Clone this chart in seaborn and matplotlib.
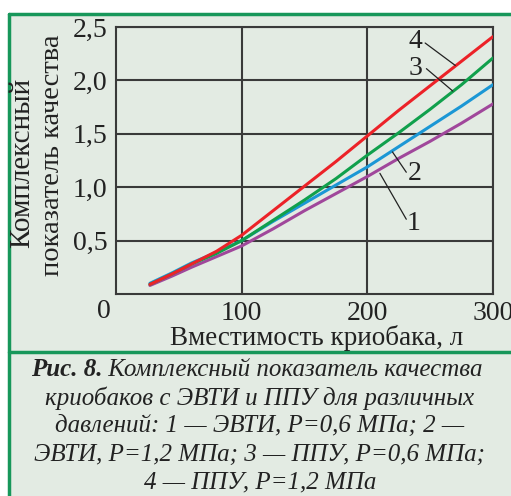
import numpy as np
import pandas as pd
import matplotlib.pyplot as plt
import seaborn as sns
from matplotlib.lines import Line2D
from matplotlib.patches import Rectangle

# данные
volume = [27, 45, 60, 80, 100, 125, 150, 175, 200, 225, 250, 275, 300]
q1 = [0.08, 0.17, 0.25, 0.35, 0.45, 0.61, 0.78, 0.94, 1.10, 1.27, 1.43, 1.60, 1.78]
q2 = [0.10, 0.20, 0.29, 0.39, 0.50, 0.68, 0.85, 1.02, 1.19, 1.38, 1.57, 1.76, 1.96]
q3 = [0.09, 0.19, 0.28, 0.38, 0.50, 0.69, 0.88, 1.08, 1.30, 1.51, 1.73, 1.96, 2.21]
q4 = [0.09, 0.19, 0.28, 0.40, 0.55, 0.78, 1.01, 1.24, 1.48, 1.72, 1.95, 2.18, 2.41]

curve_names = ["1", "2", "3", "4"]
x_ticks = [100, 200, 300]
x_tick_labels = ["100", "200", "300"]
y_ticks = [0.5, 1.0, 1.5, 2.0, 2.5]
y_tick_labels = ["0,5", "1,0", "1,5", "2,0", "2,5"]

caption_head = "Рис. 8."
caption_lines = [
    "Комплексный показатель качества",
    "криобаков с ЭВТИ и ППУ для различных",
    "давлений: 1 — ЭВТИ, P=0,6 МПа; 2 —",
    "ЭВТИ, P=1,2 МПа; 3 — ППУ, P=0,6 МПа;",
    "4 — ППУ, P=1,2 МПа",
]

df = pd.DataFrame({"volume": volume, "1": q1, "2": q2, "3": q3, "4": q4})
df = df.melt(id_vars="volume", var_name="curve", value_name="value")

BG = "#e3ebe3"
GREEN = "#17975a"
GRID = "#3a3a3a"
TXT = "#222222"
palette = {"1": "#a0479b", "2": "#1b97d5", "3": "#10a04c", "4": "#ec2228"}

sns.set_theme(style="white")
plt.rcParams["font.family"] = ["Liberation Serif", "DejaVu Serif"]

W, H = 511, 496
fig = plt.figure(figsize=(W / 100, H / 100), dpi=100)
fig.patch.set_facecolor("white")

# рамка
fig.add_artist(Rectangle((9 / W, 0), 1, 1 - 14 / H, transform=fig.transFigure,
                         facecolor=BG, edgecolor="none", zorder=-10))
fig.add_artist(Line2D([9 / W, 1], [1 - 14 / H] * 2, color=GREEN, lw=2.5, transform=fig.transFigure))
fig.add_artist(Line2D([9 / W, 9 / W], [0, 1 - 14 / H], color=GREEN, lw=2.5, transform=fig.transFigure))
fig.add_artist(Line2D([9 / W, 1], [1 - 352 / H] * 2, color=GREEN, lw=2.5, transform=fig.transFigure))

ax = fig.add_axes([116 / W, 1 - 294 / H, (493 - 116) / W, (294 - 27) / H])
ax.set_facecolor(BG)

sns.lineplot(data=df, x="volume", y="value", hue="curve", hue_order=curve_names,
             palette=palette, lw=2.2, legend=False, ax=ax, zorder=3)

ax.set_xlim(0, 300)
ax.set_ylim(0, 2.5)
ax.set_xticks(x_ticks)
ax.set_xticklabels(x_tick_labels)
ax.set_yticks(y_ticks)
ax.set_yticklabels(y_tick_labels)
ax.tick_params(length=0, labelsize=20, colors=TXT)
ax.tick_params(axis="x", pad=5)
ax.tick_params(axis="y", pad=6)
ax.set_xlabel("")
ax.set_ylabel("")
ax.grid(True, color=GRID, lw=1.5)
for s in ax.spines.values():
    s.set_color(GRID)
    s.set_linewidth(1.5)

ax.text(-9.5, -0.16, "0", fontsize=20, color=TXT, ha="center", va="center", clip_on=False)

# подписи кривых с выносками
labels = {"4": (238, 2.36), "3": (238, 2.11), "2": (238, 1.13), "1": (237, 0.66)}
leaders = {"4": ([246, 270], [2.35, 2.14]), "3": ([247, 268], [2.11, 1.90]),
           "2": ([220, 231], [1.33, 1.14]), "1": ([210, 231], [1.13, 0.70])}
for k, (lx, ly) in labels.items():
    ax.text(lx, ly, k, fontsize=20, ha="center", va="center", color=TXT, zorder=5)
    ax.plot(leaders[k][0], leaders[k][1], color=TXT, lw=0.9, zorder=4)

# подписи осей
fig.text(317 / W, 1 - 338 / H, "Вместимость криобака, л", fontsize=19.5,
         ha="center", va="center", color=TXT)
fig.text(22 / W, 1 - 163 / H, "Комплексный", fontsize=21, rotation=90,
         ha="center", va="center", color=TXT)
fig.text(53 / W, 1 - 155 / H, "показатель качества", fontsize=20.5, rotation=90,
         ha="center", va="center", color=TXT)

# подпись к рисунку
cap_size = 18
renderer = fig.canvas.get_renderer()
y0 = 1 - 370 / H
t1 = fig.text(0, y0, caption_head, fontsize=cap_size, weight="bold", style="italic",
              ha="left", va="center", color=TXT)
t2 = fig.text(0, y0, " " + caption_lines[0], fontsize=cap_size, style="italic",
              ha="left", va="center", color=TXT)
w1 = t1.get_window_extent(renderer).width
w2 = t2.get_window_extent(renderer).width
start = 257 - (w1 + w2) / 2
t1.set_x(start / W)
t2.set_x((start + w1) / W)
for i, line in enumerate(caption_lines[1:]):
    fig.text(260 / W, 1 - (398 + 28.3 * i) / H, line, fontsize=cap_size, style="italic",
             ha="center", va="center", color=TXT)

fig.savefig("out.png", dpi=100)
